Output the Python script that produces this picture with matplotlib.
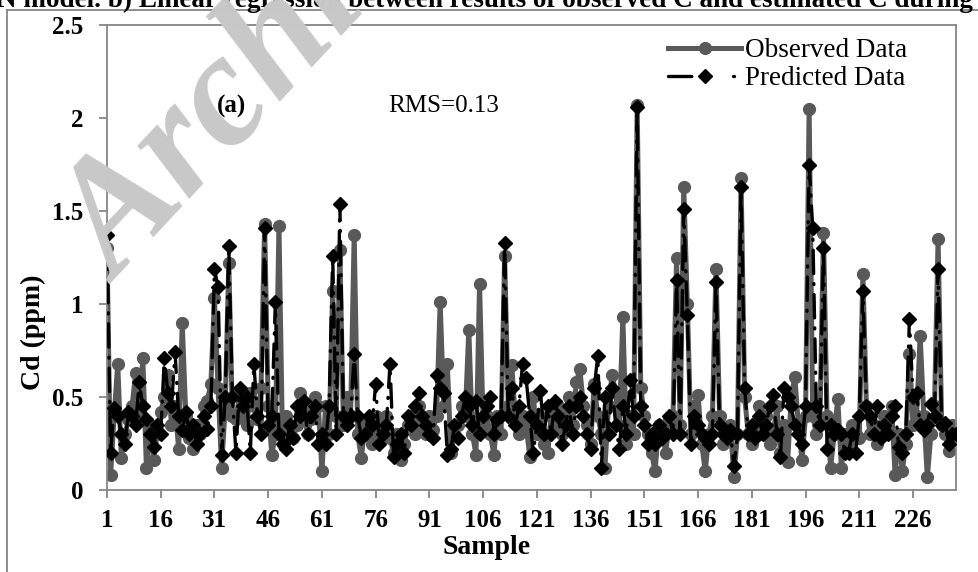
import numpy as np
import matplotlib as mpl
mpl.use('Agg')
import matplotlib.pyplot as plt
from matplotlib.lines import Line2D

# values, 15 samples per row
observed = [
    1.30, 0.08, 0.40, 0.68, 0.17, 0.30, 0.38, 0.45, 0.63, 0.40, 0.71, 0.12, 0.35, 0.16, 0.30,
    0.42, 0.50, 0.62, 0.35, 0.45, 0.22, 0.90, 0.40, 0.28, 0.22, 0.35, 0.30, 0.45, 0.48, 0.57,
    1.03, 0.55, 0.12, 0.45, 1.22, 0.40, 0.38, 0.52, 0.40, 0.35, 0.52, 0.45, 0.38, 0.55, 1.43,
    0.45, 0.19, 0.30, 1.42, 0.25, 0.40, 0.30, 0.28, 0.35, 0.52, 0.42, 0.30, 0.38, 0.50, 0.45,
    0.10, 0.45, 0.30, 1.07, 0.40, 1.29, 0.35, 0.50, 0.40, 1.37, 0.30, 0.17, 0.35, 0.30, 0.25,
    0.40, 0.30, 0.35, 0.40, 0.28, 0.20, 0.30, 0.16, 0.25, 0.35, 0.40, 0.30, 0.45, 0.35, 0.30,
    0.40, 0.32, 0.40, 1.01, 0.45, 0.68, 0.20, 0.30, 0.35, 0.45, 0.40, 0.86, 0.30, 0.19, 1.11,
    0.35, 0.40, 0.30, 0.19, 0.40, 0.30, 1.26, 0.45, 0.67, 0.38, 0.30, 0.40, 0.35, 0.18, 0.50,
    0.30, 0.40, 0.25, 0.20, 0.40, 0.35, 0.45, 0.30, 0.40, 0.50, 0.35, 0.58, 0.65, 0.45, 0.35,
    0.25, 0.57, 0.40, 0.30, 0.12, 0.45, 0.62, 0.52, 0.35, 0.93, 0.25, 0.40, 0.30, 2.07, 0.55,
    0.40, 0.30, 0.20, 0.10, 0.35, 0.30, 0.20, 0.38, 0.40, 1.25, 0.35, 1.63, 1.00, 0.30, 0.45,
    0.51, 0.25, 0.10, 0.30, 0.40, 1.19, 0.40, 0.25, 0.30, 0.35, 0.07, 0.30, 1.68, 0.50, 0.30,
    0.25, 0.35, 0.45, 0.30, 0.40, 0.25, 0.30, 0.45, 0.20, 0.35, 0.15, 0.50, 0.61, 0.35, 0.16,
    0.40, 2.05, 0.40, 0.30, 0.35, 1.38, 0.40, 0.12, 0.30, 0.49, 0.12, 0.30, 0.25, 0.35, 0.30,
    0.28, 1.16, 0.45, 0.30, 0.35, 0.25, 0.30, 0.40, 0.35, 0.45, 0.08, 0.30, 0.10, 0.25, 0.73,
    0.35, 0.40, 0.83, 0.40, 0.07, 0.30, 0.45, 1.35, 0.35, 0.30, 0.21, 0.35, 0.28,
]
predicted = [
    1.37, 0.20, 0.44, 0.40, 0.30, 0.25, 0.42, 0.40, 0.35, 0.58, 0.45, 0.38, 0.30, 0.23, 0.35,
    0.30, 0.71, 0.52, 0.45, 0.74, 0.40, 0.32, 0.42, 0.30, 0.35, 0.25, 0.30, 0.40, 0.33, 0.45,
    1.19, 1.09, 0.19, 0.50, 1.31, 0.50, 0.20, 0.55, 0.45, 0.50, 0.20, 0.68, 0.40, 0.30, 1.41,
    0.35, 0.40, 1.01, 0.30, 0.25, 0.22, 0.35, 0.28, 0.45, 0.40, 0.48, 0.30, 0.40, 0.45, 0.25,
    0.30, 0.25, 0.45, 1.26, 0.30, 1.54, 0.40, 0.35, 0.40, 0.73, 0.40, 0.28, 0.30, 0.40, 0.35,
    0.57, 0.25, 0.30, 0.35, 0.68, 0.18, 0.25, 0.30, 0.20, 0.40, 0.35, 0.45, 0.52, 0.40, 0.35,
    0.30, 0.28, 0.62, 0.55, 0.52, 0.19, 0.22, 0.35, 0.28, 0.40, 0.50, 0.45, 0.35, 0.48, 0.30,
    0.40, 0.45, 0.50, 0.30, 0.38, 0.40, 1.33, 0.40, 0.55, 0.35, 0.45, 0.68, 0.60, 0.40, 0.20,
    0.35, 0.53, 0.30, 0.45, 0.30, 0.48, 0.40, 0.25, 0.35, 0.45, 0.30, 0.45, 0.50, 0.40, 0.30,
    0.22, 0.55, 0.72, 0.12, 0.50, 0.30, 0.55, 0.35, 0.22, 0.45, 0.30, 0.59, 0.40, 2.06, 0.45,
    0.35, 0.25, 0.30, 0.25, 0.35, 0.28, 0.30, 0.40, 0.30, 1.13, 0.30, 1.51, 0.94, 0.25, 0.40,
    0.35, 0.30, 0.28, 0.25, 0.30, 1.12, 0.35, 0.30, 0.28, 0.32, 0.13, 0.30, 1.63, 0.55, 0.30,
    0.35, 0.28, 0.40, 0.30, 0.35, 0.45, 0.51, 0.30, 0.18, 0.55, 0.50, 0.45, 0.35, 0.30, 0.25,
    0.45, 1.75, 1.41, 0.45, 0.35, 1.30, 0.22, 0.35, 0.30, 0.32, 0.30, 0.20, 0.20, 0.30, 0.20,
    0.40, 1.07, 0.45, 0.40, 0.30, 0.45, 0.28, 0.35, 0.30, 0.40, 0.45, 0.23, 0.20, 0.30, 0.92,
    0.50, 0.52, 0.35, 0.32, 0.35, 0.46, 0.40, 1.19, 0.35, 0.36, 0.25, 0.30, 0.30,
]
xticks = [1, 16, 31, 46, 61, 76, 91, 106, 121, 136, 151, 166, 181, 196, 211, 226]
yticks = [0, 0.5, 1, 1.5, 2, 2.5]

samples = np.arange(1, len(observed) + 1)

plt.rcParams['font.family'] = ['Liberation Serif', 'DejaVu Serif']
axis_gray = '#868686'
obs_gray = '#595959'
pred_ls = (0, (7, 3, 0.3, 3))

fig = plt.figure(figsize=(9.79, 5.72), dpi=100)
ax = fig.add_axes([107/979, 1 - 490/572, 849/979, 465/572])

ax.plot(samples, observed, color=obs_gray, lw=3.6, marker='o', ms=8.5,
        mfc=obs_gray, mec=obs_gray, zorder=2)
ax.plot(samples, predicted, color='black', lw=2.4, ls=pred_ls,
        dash_capstyle='round', marker='D', ms=7.5, mfc='black', mec='black', zorder=3)

ax.set_xlim(1, len(observed))
ax.set_ylim(0, 2.5)
ax.set_xticks(xticks)
ax.set_xticklabels([str(t) for t in xticks])
ax.set_yticks(yticks)
ax.set_yticklabels(['%g' % t for t in yticks])
for s in ax.spines.values():
    s.set_color(axis_gray)
    s.set_linewidth(1.3)
ax.tick_params(axis='both', direction='out', length=6, width=1.3, color=axis_gray,
               labelsize=18, labelcolor='black')
ax.tick_params(axis='y', pad=11)
ax.tick_params(axis='x', pad=8)
for lab in ax.get_xticklabels() + ax.get_yticklabels():
    lab.set_fontweight('bold')

fig.text(487/979, 1 - 548/572, 'Sample', ha='center', va='center',
         fontsize=20, fontweight='bold')
fig.text(33/979, 1 - 332/572, 'Cd (ppm)', ha='center', va='center', rotation=90,
         fontsize=20, fontweight='bold')

ax.text(0.13, 0.825, '(a)', transform=ax.transAxes, ha='left', va='center',
        fontsize=18, fontweight='bold')
ax.text(0.331, 0.825, 'RMS=0.13', transform=ax.transAxes, ha='left', va='center',
        fontsize=18)

handles = [
    Line2D([], [], color=obs_gray, lw=3.6, marker='o', ms=8.5, mfc=obs_gray, mec=obs_gray),
    Line2D([], [], color='black', lw=2.4, ls=(0, (7, 12.5, 0.3, 10)), dash_capstyle='round',
           marker='D', ms=7.5, mfc='black', mec='black'),
]
ax.legend(handles, ['Observed Data', 'Predicted Data'], loc='upper right',
          bbox_to_anchor=(0.965, 1.012), frameon=False, fontsize=19.5,
          handlelength=2.7, handletextpad=0.15, labelspacing=0.1, borderpad=0.2)

# outer chart border (left and top)
fig.add_artist(Line2D([7/979, 7/979], [0, 1 - 10/572], transform=fig.transFigure,
                      color=axis_gray, lw=1.3))
fig.add_artist(Line2D([7/979, 1], [1 - 10/572, 1 - 10/572], transform=fig.transFigure,
                      color=axis_gray, lw=1.3))

# caption text cut off at the top of the page
fig.text(-3/979, 1 - 7/572,
         'N model. b) Linear regression between results of observed C and estimated C during t',
         ha='left', va='baseline', fontsize=19.5, fontweight='bold')

# page watermark
fig.text(118/979, 1 - 285/572, 'Archive', rotation=47, rotation_mode='anchor',
         ha='left', va='baseline', fontsize=115, fontweight='bold', style='italic',
         color='#c8c8c8', zorder=10)

fig.savefig('out.png', dpi=100)
